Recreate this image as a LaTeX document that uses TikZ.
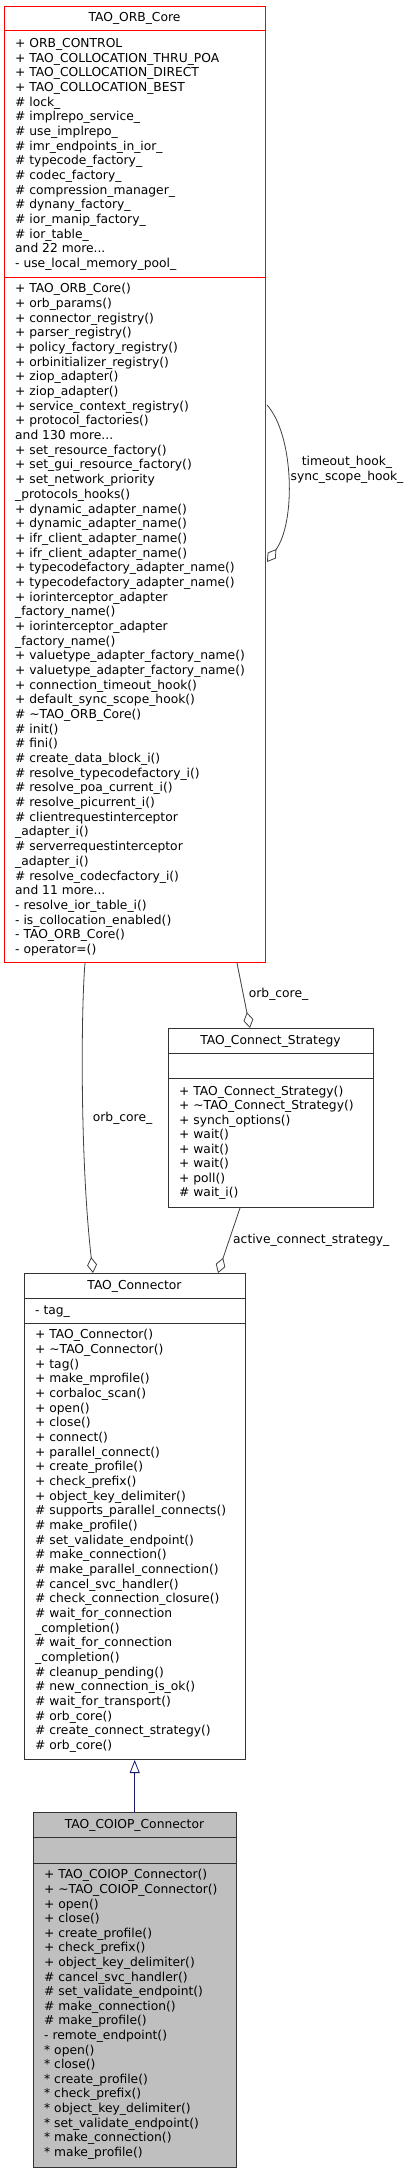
\documentclass[tikz,border=0pt]{standalone}
\usepackage{fontspec}
\setmainfont{DejaVu Sans}
\usetikzlibrary{arrows.meta,calc}
\definecolor{edgegray}{HTML}{404040}
\definecolor{boxgray}{HTML}{BFBFBF}
\definecolor{inhblue}{HTML}{191970}
\definecolor{boxline}{HTML}{333333}
\newcommand{\umllines}[2]{\vtop{\baselineskip=#1\lineskiplimit=-20pt\lineskip=0pt\halign{##\hfil\cr#2\crcr}}}
\begin{document}
\begin{tikzpicture}[x=1pt,y=-1pt,
  txt/.style={inner sep=0pt,font=\fontsize{12.3}{14.6}\selectfont},
  umlbox/.style={draw=boxline,line width=1pt,anchor=north west,inner sep=0pt},
  sep/.style={line width=1pt},
  agg/.style={draw=edgegray,line width=0.8pt,-{Diamond[open,length=16pt,width=10pt,line width=0.8pt]}},
  inh/.style={draw=inhblue,line width=0.8pt,-{Triangle[open,length=13pt,width=10pt,line width=0.8pt]}}]
\useasboundingbox (0,0) rectangle (415,2173);
\fill[white] (0,0) rectangle (415,2173);

% ---------- TAO_ORB_Core ----------
\node[umlbox,draw=red,fill=white,minimum width=261pt,minimum height=956pt] (orb) at (4,6) {};
\draw[sep,red] ($(orb.north west)+(0,25)$) -- ($(orb.north east)+(0,25)$);
\draw[sep,red] ($(orb.north west)+(0,271)$) -- ($(orb.north east)+(0,271)$);
\node[txt,anchor=base] (orbtitle) at (134.5,22) {TAO\_ORB\_Core};
\node[txt,anchor=base west] (orbattr) at (15,47.5) {\umllines{14.67pt}{%
+ ORB\_CONTROL\cr
+ TAO\_COLLOCATION\_THRU\_POA\cr
+ TAO\_COLLOCATION\_DIRECT\cr
+ TAO\_COLLOCATION\_BEST\cr
\# lock\_\cr
\# implrepo\_service\_\cr
\# use\_implrepo\_\cr
\# imr\_endpoints\_in\_ior\_\cr
\# typecode\_factory\_\cr
\# codec\_factory\_\cr
\# compression\_manager\_\cr
\# dynany\_factory\_\cr
\# ior\_manip\_factory\_\cr
\# ior\_table\_\cr
and 22 more...\cr
- use\_local\_memory\_pool\_}};
\node[txt,anchor=base west] (orbops) at (15,292.8) {\umllines{14.68pt}{%
+ TAO\_ORB\_Core()\cr
+ orb\_params()\cr
+ connector\_registry()\cr
+ parser\_registry()\cr
+ policy\_factory\_registry()\cr
+ orbinitializer\_registry()\cr
+ ziop\_adapter()\cr
+ ziop\_adapter()\cr
+ service\_context\_registry()\cr
+ protocol\_factories()\cr
and 130 more...\cr
+ set\_resource\_factory()\cr
+ set\_gui\_resource\_factory()\cr
+ set\_network\_priority\cr
\_protocols\_hooks()\cr
+ dynamic\_adapter\_name()\cr
+ dynamic\_adapter\_name()\cr
+ ifr\_client\_adapter\_name()\cr
+ ifr\_client\_adapter\_name()\cr
+ typecodefactory\_adapter\_name()\cr
+ typecodefactory\_adapter\_name()\cr
+ iorinterceptor\_adapter\cr
\_factory\_name()\cr
+ iorinterceptor\_adapter\cr
\_factory\_name()\cr
+ valuetype\_adapter\_factory\_name()\cr
+ valuetype\_adapter\_factory\_name()\cr
+ connection\_timeout\_hook()\cr
+ default\_sync\_scope\_hook()\cr
\# \textasciitilde TAO\_ORB\_Core()\cr
\# init()\cr
\# fini()\cr
\# create\_data\_block\_i()\cr
\# resolve\_typecodefactory\_i()\cr
\# resolve\_poa\_current\_i()\cr
\# resolve\_picurrent\_i()\cr
\# clientrequestinterceptor\cr
\_adapter\_i()\cr
\# serverrequestinterceptor\cr
\_adapter\_i()\cr
\# resolve\_codecfactory\_i()\cr
and 11 more...\cr
- resolve\_ior\_table\_i()\cr
- is\_collocation\_enabled()\cr
- TAO\_ORB\_Core()\cr
- operator=()}};

% ---------- TAO_Connect_Strategy ----------
\node[umlbox,fill=white,minimum width=205pt,minimum height=179pt] (cs) at (168,1028) {};
\draw[sep,boxline] ($(cs.north west)+(0,25)$) -- ($(cs.north east)+(0,25)$);
\draw[sep,boxline] ($(cs.north west)+(0,50)$) -- ($(cs.north east)+(0,50)$);
\node[txt,anchor=base] (cstitle) at (270.5,1044.2) {TAO\_Connect\_Strategy};
\node[txt,anchor=base west] (csops) at (179,1095.2) {\umllines{14.5pt}{%
+ TAO\_Connect\_Strategy()\cr
+ \textasciitilde TAO\_Connect\_Strategy()\cr
+ synch\_options()\cr
+ wait()\cr
+ wait()\cr
+ wait()\cr
+ poll()\cr
\# wait\_i()}};

% ---------- TAO_Connector ----------
\node[umlbox,fill=white,minimum width=221pt,minimum height=486pt] (conn) at (24,1273) {};
\draw[sep,boxline] ($(conn.north west)+(0,25)$) -- ($(conn.north east)+(0,25)$);
\draw[sep,boxline] ($(conn.north west)+(0,50)$) -- ($(conn.north east)+(0,50)$);
\node[txt,anchor=base] (conntitle) at (134.5,1289.2) {TAO\_Connector};
\node[txt,anchor=base west] (connattr) at (35,1314.5) {- tag\_};
\node[txt,anchor=base west] (connops) at (35,1338.8) {\umllines{14.67pt}{%
+ TAO\_Connector()\cr
+ \textasciitilde TAO\_Connector()\cr
+ tag()\cr
+ make\_mprofile()\cr
+ corbaloc\_scan()\cr
+ open()\cr
+ close()\cr
+ connect()\cr
+ parallel\_connect()\cr
+ create\_profile()\cr
+ check\_prefix()\cr
+ object\_key\_delimiter()\cr
\# supports\_parallel\_connects()\cr
\# make\_profile()\cr
\# set\_validate\_endpoint()\cr
\# make\_connection()\cr
\# make\_parallel\_connection()\cr
\# cancel\_svc\_handler()\cr
\# check\_connection\_closure()\cr
\# wait\_for\_connection\cr
\_completion()\cr
\# wait\_for\_connection\cr
\_completion()\cr
\# cleanup\_pending()\cr
\# new\_connection\_is\_ok()\cr
\# wait\_for\_transport()\cr
\# orb\_core()\cr
\# create\_connect\_strategy()\cr
\# orb\_core()}};

% ---------- TAO_COIOP_Connector ----------
\node[umlbox,fill=boxgray,minimum width=203pt,minimum height=355pt] (coiop) at (33,1812) {};
\draw[sep,boxline] ($(coiop.north west)+(0,25)$) -- ($(coiop.north east)+(0,25)$);
\draw[sep,boxline] ($(coiop.north west)+(0,51)$) -- ($(coiop.north east)+(0,51)$);
\node[txt,anchor=base] (coioptitle) at (134.5,1828.2) {TAO\_COIOP\_Connector};
\node[txt,anchor=base west] (coiopops) at (44,1878.8) {\umllines{14.6pt}{%
+ TAO\_COIOP\_Connector()\cr
+ \textasciitilde TAO\_COIOP\_Connector()\cr
+ open()\cr
+ close()\cr
+ create\_profile()\cr
+ check\_prefix()\cr
+ object\_key\_delimiter()\cr
\# cancel\_svc\_handler()\cr
\# set\_validate\_endpoint()\cr
\# make\_connection()\cr
\# make\_profile()\cr
- remote\_endpoint()\cr
* open()\cr
* close()\cr
* create\_profile()\cr
* check\_prefix()\cr
* object\_key\_delimiter()\cr
* set\_validate\_endpoint()\cr
* make\_connection()\cr
* make\_profile()}};

% ---------- connectors ----------
\draw[inh] ($(coiop.north west)+(101.7,0)$) -- ($(conn.south west)+(110.7,0)$);
\draw[agg] ($(orb.south west)+(81,0)$) .. controls (81,1010) and (80,1160) .. ($(conn.north west)+(69,0)$);
\node[txt,anchor=base west] (lbl1) at (92.7,1121) {orb\_core\_};
\draw[agg] ($(orb.south west)+(233,0)$) -- ($(cs.north west)+(82,0)$);
\node[txt,anchor=base west] (lbl2) at (248.7,997.5) {orb\_core\_};
\draw[agg] ($(cs.south west)+(72,0)$) -- ($(conn.north west)+(194,0)$);
\node[txt,anchor=base west] (lbl3) at (233,1243) {active\_connect\_strategy\_};
\draw[agg] ($(orb.north east)+(1,399)$) .. controls (294,435) and (296,522) .. ($(orb.north east)+(1,556)$);
\node[txt,align=center,anchor=base] (lbl4) at (347,480) {timeout\_hook\_\\sync\_scope\_hook\_};
\end{tikzpicture}
\end{document}
